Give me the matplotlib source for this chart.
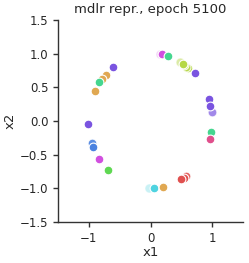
import matplotlib
matplotlib.use("Agg")
import matplotlib.pyplot as plt
import numpy as np

# point coordinates
x1 = [0.16, 0.18, 0.29, 0.48, 0.61, 0.58, 0.55, 0.53, 0.72,
      -0.61, -0.72, -0.78, -0.84, -0.90,
      0.95, 0.99, 0.97, 0.98, 0.96,
      -1.01, -0.95, -0.93, -0.83, -0.69,
      -0.02, 0.05, 0.20, 0.57, 0.54, 0.50]
x2 = [0.99, 0.99, 0.96, 0.88, 0.78, 0.80, 0.83, 0.85, 0.71,
      0.80, 0.68, 0.63, 0.58, 0.45,
      0.33, 0.14, 0.22, -0.16, -0.27,
      -0.05, -0.33, -0.38, -0.57, -0.73,
      -1.00, -1.00, -0.98, -0.81, -0.84, -0.86]
colors = ["#d14fdf", "#d14fdf", "#45d68f", "#b9d84f", "#b9d84f", "#b9d84f", "#b9d84f", "#b5d846", "#7a54e0",
          "#7a54e0", "#e0a852", "#e0a852", "#45d68f", "#e0a852",
          "#7a54e0", "#8a6ae4", "#7a54e0", "#45d68f", "#e04f8c",
          "#7a54e0", "#4a82e0", "#4a82e0", "#d14fdf", "#5fd852",
          "#4ed3e0", "#4ed3e0", "#e0a852", "#e0504f", "#e0504f", "#e0504f"]
alphas = [0.25, 1, 1, 0.5, 1, 0.8, 0.9, 1, 1,
          1, 1, 1, 1, 1,
          1, 0.8, 1, 1, 1,
          1, 0.9, 1, 1, 1,
          0.3, 1, 1, 0.9, 1, 1]

fig = plt.figure(figsize=(2.49, 2.63), dpi=100)
ax = fig.add_axes([58/249, 1-222/263, (243-58)/249, (222-20)/263])
for xx, yy, c, a in zip(x1, x2, colors, alphas):
    ax.scatter([xx], [yy], s=40, c=c, alpha=a, edgecolors="white", linewidths=0.8, zorder=3)

ax.set_xlim(-1.5, 1.5)
ax.set_ylim(-1.5, 1.5)
ax.set_xticks([-1, 0, 1])
ax.set_yticks([-1.5, -1.0, -0.5, 0.0, 0.5, 1.0, 1.5])
ax.set_yticklabels(["\u22121.5", "\u22121.0", "\u22120.5", "0.0", "0.5", "1.0", "1.5"])
ax.set_xticklabels(["\u22121", "0", "1"])
ax.tick_params(labelsize=8.5, color="#333333", labelcolor="#262626", length=3.5, width=1)
for s in ["top", "right"]:
    ax.spines[s].set_visible(False)
for s in ["left", "bottom"]:
    ax.spines[s].set_color("#333333")
    ax.spines[s].set_linewidth(1)
ax.set_xlabel("x1", fontsize=9.5, color="#262626", labelpad=1)
ax.set_ylabel("x2", fontsize=9.5, color="#262626", labelpad=2)
ax.set_title("mdlr repr., epoch 5100", fontsize=9.5, color="#262626", pad=5)
fig.savefig("out.png", dpi=100)
